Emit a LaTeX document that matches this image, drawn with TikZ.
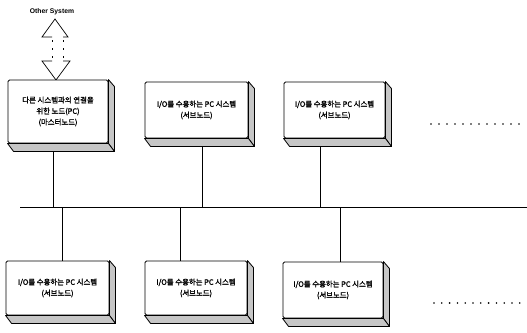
\documentclass[tikz,border=0pt]{standalone}
\usepackage{fontspec}
\setmainfont{Liberation Sans}
\newfontfamily\kr[FakeBold=1.6]{Noto Sans CJK KR}
\usetikzlibrary{calc}
\pgfdeclarelayer{bg}
\pgfsetlayers{bg,main}
\tikzset{
  pcbox/.style={draw, fill=white, line width=0.9pt, rounded corners=1.5pt, align=center,
    font=\kr\fontsize{7.4}{11}\selectfont, inner sep=0pt},
  face/.style={draw, fill=gray!45, line width=0.8pt, line join=round},
  wire/.style={line width=0.8pt},
  hollow/.style={line width=0.7pt},
  gap/.style={line width=0.6pt, dash pattern=on 2pt off 6pt},
}
\newcommand{\depthfaces}[1]{%
  \draw[face] (#1.north east) -- ++(6,7) -- ($(#1.south east)+(6,8)$) -- (#1.south east) -- cycle;
  \draw[face] (#1.south west) -- (#1.south east) -- ++(6,8) -- ($(#1.south west)+(6,8)$) -- cycle;
}
\begin{document}
\begin{tikzpicture}[x=1pt,y=-1pt]
\useasboundingbox (0,0) rectangle (527,332);
% other system
\node[font=\bfseries\fontsize{6.8}{8}\selectfont] (os) at (52,12) {Other System};
% hollow double arrow
\coordinate (au) at (55,19);
\coordinate (ad) at (56,80);
\draw[hollow] (52,37) -- (42,37) -- (au) -- (68,37) -- (63,37);
\draw[hollow] (52,61) -- (42,61) -- (ad) -- (70,61) -- (63,61);
\draw[gap] (52,40) -- (52,61);
\draw[gap] (63,40) -- (63,61);
% top boxes
\node[pcbox, minimum width=100pt, minimum height=63pt] (t1) at (58,111.5)
  {다른 시스템과의 연결을\\위한 노드(PC)\\(마스터노드)};
\node[pcbox, minimum width=103pt, minimum height=56pt] (t2) at (196.5,110)
  {I/O를 수용하는 PC 시스템\\(서브노드)};
\node[pcbox, minimum width=101pt, minimum height=56pt] (t3) at (334.5,110)
  {I/O를 수용하는 PC 시스템\\(서브노드)};
% bottom boxes
\node[pcbox, minimum width=103pt, minimum height=54pt] (b1) at (57.5,288)
  {I/O를 수용하는 PC 시스템\\(서브노드)};
\node[pcbox, minimum width=102pt, minimum height=54pt] (b2) at (196,288)
  {I/O를 수용하는 PC 시스템\\(서브노드)};
\node[pcbox, minimum width=100pt, minimum height=56pt] (b3) at (333,290)
  {I/O를 수용하는 PC 시스템\\(서브노드)};
\depthfaces{t1}\depthfaces{t2}\depthfaces{t3}
\depthfaces{b1}\depthfaces{b2}\depthfaces{b3}
% bus
\coordinate (busL) at (20,207);
\coordinate (busR) at (527,207);
\coordinate (j1) at (53,207);
\coordinate (j2) at (202,207);
\coordinate (j3) at (320,207);
\coordinate (k1) at (62,207);
\coordinate (k2) at (180,207);
\coordinate (k3) at (340,207);
\begin{pgfonlayer}{bg}
\draw[wire] (busL) -- (busR);
\draw[wire] (j1) -- (j1 |- t1.center);
\draw[wire] (j2) -- (j2 |- t2.center);
\draw[wire] (j3) -- (j3 |- t3.center);
\draw[wire] (k1) -- (k1 |- b1.center);
\draw[wire] (k2) -- (k2 |- b2.center);
\draw[wire] (k3) -- (k3 |- b3.center);
\end{pgfonlayer}
% continuation dots
\foreach \i in {0,...,11} {
  \fill (431+\i*8,124) circle (0.9);
  \fill (434+\i*7.8,303) circle (0.9);
}
\end{tikzpicture}
\end{document}
